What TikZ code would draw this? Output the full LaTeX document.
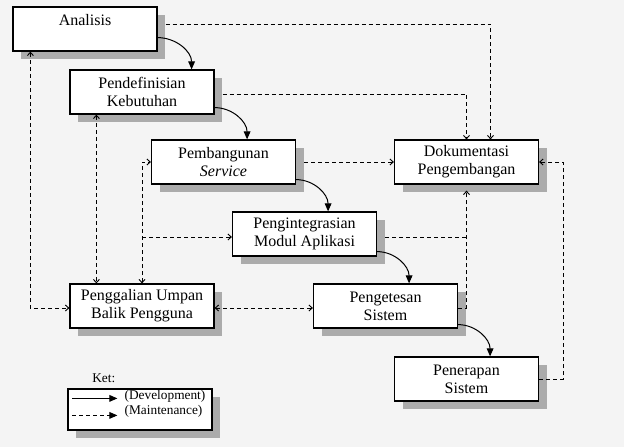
\documentclass[tikz,border=0pt]{standalone}
\usepackage{fontspec}
\setmainfont{Liberation Serif}
\usepackage{xcolor}
\usepackage{tikz}
\usetikzlibrary{arrows.meta, positioning, calc, shadows}

\definecolor{bggray}{HTML}{F4F4F4}
\definecolor{shadegray}{HTML}{ABABAB}

\begin{document}
\begin{tikzpicture}[
  x=0.75pt, y=-0.75pt,
  every node/.style={font=\fontsize{12}{13.5}\selectfont},
  stagebox/.style={
    rectangle, draw=black, fill=white, line width=0.9pt,
    minimum width=108pt, minimum height=33pt, inner sep=2pt,
    align=center,
    drop shadow={shadow xshift=6pt, shadow yshift=-6pt, fill=shadegray, opacity=1}},
  ketlbl/.style={font=\fontsize{10}{11}\selectfont, inner sep=0pt, anchor=west},
  dev/.style={-{Triangle[length=6pt,width=5pt]}, line width=0.75pt},
  mnt/.style={dash pattern=on 3pt off 2.25pt, line width=0.7pt,
    >={Straight Barb[length=2.5pt,width=4.5pt]}}
]

%% ── CANVAS ───────────────────────────────────────────────
\fill[bggray] (0,0) rectangle (624,447);
\useasboundingbox (0,0) rectangle (624,447);

%% ── STAGES ───────────────────────────────────────────────
\node[stagebox] (ana)   at (85,29)    {Analisis\\\phantom{A}};
\node[stagebox] (def)   at (142,92)   {Pendefinisian\\Kebutuhan};
\node[stagebox] (bang)  at (223.5,162) {Pembangunan\\\textit{Service}};
\node[stagebox] (integ) at (304.5,234) {Pengintegrasian\\Modul Aplikasi};
\node[stagebox] (uji)   at (385.5,306) {Pengetesan\\Sistem};
\node[stagebox] (terap) at (466.5,379) {Penerapan\\Sistem};
\node[stagebox] (dok)   at (466.5,162) {Dokumentasi\\Pengembangan};
\node[stagebox] (gali)  at (142,306)   {Penggalian Umpan\\Balik Pengguna};

%% Development arrows (solid, curved)
\draw[dev] ($(ana.south east)+(0,-14)$)  to[out=0,in=90] ($(def.north east)+(-23,0)$);
\draw[dev] ($(def.south east)+(0,-7)$)   to[out=0,in=90] ($(bang.north east)+(-49,0)$);
\draw[dev] ($(bang.south east)+(0,-5)$)  to[out=0,in=90] ($(integ.north east)+(-49,0)$);
\draw[dev] ($(integ.south east)+(0,-5)$) to[out=0,in=90] ($(uji.north east)+(-49,0)$);
\draw[dev] ($(uji.south east)+(0,-4)$)   to[out=0,in=90] ($(terap.north east)+(-49,0)$);

%% ── MAINTENANCE ──────────────────────────────────────────
%% Into Dokumentasi
\draw[mnt,->] ($(ana.east)+(8,-5)$) -| ($(dok.north)+(24,0)$);
\draw[mnt,->] ($(def.east)+(8,2)$)  -| (dok.north);
\draw[mnt,->] ($(bang.east)+(8,0)$) -- (dok.west);
\draw[mnt,->] ($(uji.east)+(0,2)$)  -| ($(dok.south)+(0,6)$);
\draw[mnt]    ($(integ.east)+(8,3)$) -- ($(integ.east -| dok.south)+(0,3)$);
\draw[mnt,->] (terap.east) -- ++(24,0) |- (dok.east);

%% Feedback loops through Penggalian
\draw[mnt,<->] ($(ana.south west)+(18,0)$) |- ($(gali.west)+(0,2)$);
\draw[mnt,<->] ($(def.south west)+(27,0)$) -- ($(gali.north west)+(27,0)$);
\draw[mnt,<->] (gali.north) |- (bang.west);
\draw[mnt,->]  ($(gali.north |- integ.west)+(0,3)$) -- ($(integ.west)+(0,3)$);
\draw[mnt,<->] ($(gali.east)+(0,2)$) -- ($(uji.west)+(0,2)$);

%% ── LEGEND ───────────────────────────────────────────────
\node[ketlbl] (ket) at (92,378) {Ket:};
\node[stagebox, minimum height=30.75pt] (legend) at (140,409.5) {};
\coordinate (d1) at ($(legend.north west)+(5,10)$);
\coordinate (d2) at ($(d1)+(45,0)$);
\coordinate (m1) at ($(legend.north west)+(5,27)$);
\coordinate (m2) at ($(m1)+(45,0)$);
\draw[dev] (d1) -- (d2);
\draw[mnt, -{Triangle[length=6pt,width=5pt]}] (m1) -- (m2);
\node[ketlbl] (devlbl) at ($(d2)+(7,-2)$) {(Development)};
\node[ketlbl] (mntlbl) at ($(m2)+(7,-4)$) {(Maintenance)};

\end{tikzpicture}
\end{document}
